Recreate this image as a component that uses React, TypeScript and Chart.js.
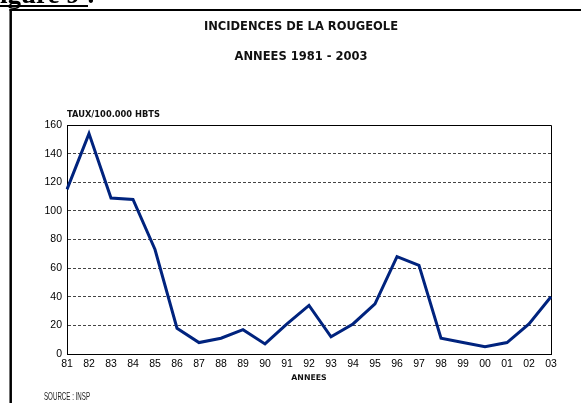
import React, { useEffect, useRef } from "react";
import { Chart, registerables } from "chart.js";

Chart.register(...registerables);

const years = ["81","82","83","84","85","86","87","88","89","90","91","92","93","94","95","96","97","98","99","00","01","02","03"];
const rates = [115, 154, 109, 108, 73, 18, 8, 11, 17, 7, 21, 34, 12, 21, 35, 68, 62, 11, 8, 5, 8, 21, 40];
const yTicks = { min: 0, max: 160, step: 20 };

const title = "INCIDENCES DE LA ROUGEOLE";
const subtitle = "ANNEES 1981 - 2003";
const yTitle = "TAUX/100.000 HBTS";
const xTitle = "ANNEES";
const source = "SOURCE : INSP";
const figureLabel = "Figure 9 :";

const decorPlugin = {
  id: "decor",
  beforeDraw(chart: any) {
    const { ctx, width, height } = chart;
    ctx.save();
    ctx.fillStyle = "#fff";
    ctx.fillRect(0, 0, width, height);
    ctx.strokeStyle = "#000";
    ctx.lineWidth = 2;
    ctx.beginPath();
    ctx.moveTo(9.5, 10);
    ctx.lineTo(width, 10);
    ctx.stroke();
    ctx.lineWidth = 2.5;
    ctx.beginPath();
    ctx.moveTo(10.7, 9);
    ctx.lineTo(10.7, height);
    ctx.stroke();
    ctx.fillStyle = "#000";
    ctx.font = 'bold 27px "Liberation Serif"';
    ctx.textAlign = "left";
    ctx.textBaseline = "alphabetic";
    ctx.fillText(figureLabel, -16.5, 3);
    ctx.fillRect(0, 5, 88, 2);
    ctx.restore();
  },
  beforeDatasetsDraw(chart: any) {
    const { ctx, chartArea: a } = chart;
    ctx.save();
    ctx.strokeStyle = "#000";
    ctx.lineWidth = 1;
    ctx.beginPath();
    ctx.moveTo(a.left, a.top + 0.5);
    ctx.lineTo(a.right + 0.5, a.top + 0.5);
    ctx.lineTo(a.right + 0.5, a.bottom);
    ctx.stroke();
    ctx.restore();
  },
  afterDraw(chart: any) {
    const { ctx, chartArea: a } = chart;
    ctx.save();
    ctx.fillStyle = "#111";
    ctx.textBaseline = "middle";
    ctx.textAlign = "center";
    ctx.font = 'bold 11.5px "DejaVu Sans"';
    ctx.fillText(title, 301, 27);
    ctx.fillText(subtitle, 301, 57);
    ctx.font = 'bold 8.3px "DejaVu Sans"';
    ctx.textAlign = "left";
    ctx.fillText(yTitle, a.left, 115);
    ctx.font = 'bold 7.8px "DejaVu Sans"';
    ctx.textAlign = "center";
    ctx.fillText(xTitle, (a.left + a.right) / 2, 378);
    ctx.font = '11px "Liberation Sans Narrow", "Liberation Sans"';
    ctx.textAlign = "left";
    ctx.fillStyle = "#222";
    const w = ctx.measureText(source).width;
    ctx.translate(44, 397);
    ctx.scale(46 / w, 1);
    ctx.fillText(source, 0, 0);
    ctx.restore();
  },
};

export default function App() {
  const ref = useRef<HTMLCanvasElement | null>(null);
  useEffect(() => {
    if (!ref.current) return;
    const chart = new Chart(ref.current, {
      type: "line",
      data: {
        labels: years,
        datasets: [
          {
            data: rates,
            borderColor: "#00237E",
            borderWidth: 3,
            pointRadius: 0,
            tension: 0,
            fill: false,
          },
        ],
      },
      options: {
        responsive: false,
        animation: false,
        devicePixelRatio: 1,
        layout: { padding: { left: 0, right: 30, top: 125, bottom: 0 } },
        plugins: { legend: { display: false }, tooltip: { enabled: false }, title: { display: false } },
        scales: {
          x: {
            type: "category",
            offset: false,
            grid: { display: false, drawTicks: false },
            border: { display: true, color: "#000", width: 1 },
            ticks: {
              color: "#000",
              font: { family: "Liberation Sans", size: 10.5 },
              padding: 4,
              maxRotation: 0,
              autoSkip: false,
            },
            afterFit: (s: any) => {
              s.height = 49;
            },
          },
          y: {
            min: yTicks.min,
            max: yTicks.max,
            grid: { color: "#444", lineWidth: 1, drawTicks: false },
            border: { display: true, color: "#000", width: 1, dash: [3, 2] },
            ticks: {
              stepSize: yTicks.step,
              color: "#000",
              font: { family: "Liberation Sans", size: 10.5 },
              padding: 5,
            },
            afterFit: (s: any) => {
              s.width = 67;
            },
          },
        },
      },
      plugins: [decorPlugin],
    } as any);
    return () => chart.destroy();
  }, []);
  return (
    <div style={{ position: "absolute", left: 0, top: 0, width: 581, height: 403, overflow: "hidden" }}>
      <canvas ref={ref} width={581} height={403} style={{ display: "block" }} />
    </div>
  );
}
